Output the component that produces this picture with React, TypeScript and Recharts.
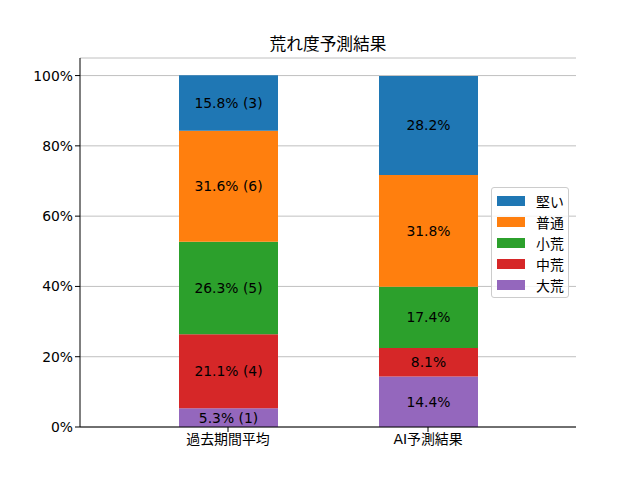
import React from 'react';
import {
  BarChart,
  Bar,
  XAxis,
  YAxis,
  CartesianGrid,
  LabelList,
  Legend,
} from 'recharts';

const categories = ['過去期間平均', 'AI予測結果'];
const seriesNames = ['大荒', '中荒', '小荒', '普通', '堅い'];
const seriesColors = ['#9467bd', '#d62728', '#2ca02c', '#ff7f0e', '#1f77b4'];
const pastShares = [5.3, 21.1, 26.3, 31.6, 15.8];
const pastCounts = [1, 4, 5, 6, 3];
const aiShares = [14.4, 8.1, 17.4, 31.8, 28.2];
const yTicks = [0, 20, 40, 60, 80, 100];

const FONT = '"DejaVu Sans", "Noto Sans CJK JP", sans-serif';

const rows = categories.map((name, ci) => {
  const row: Record<string, string | number> = { name };
  seriesNames.forEach((s, si) => {
    if (ci === 0) {
      row[s] = pastShares[si];
      row[`${s}_label`] = `${pastShares[si].toFixed(1)}% (${pastCounts[si]})`;
    } else {
      row[s] = aiShares[si];
      row[`${s}_label`] = `${aiShares[si].toFixed(1)}%`;
    }
  });
  return row;
});

const LegendBox = () => (
  <div
    style={{
      boxSizing: 'border-box',
      width: 78,
      border: '1px solid #cccccc',
      borderRadius: 3,
      background: 'rgba(255,255,255,0.8)',
      padding: '2px 4px 2px 5px',
      fontFamily: FONT,
      fontSize: 13.9,
      whiteSpace: 'nowrap',
    }}
  >
    {seriesNames
      .map((s, i) => ({ s, c: seriesColors[i] }))
      .reverse()
      .map(({ s, c }) => (
        <div key={s} style={{ display: 'flex', alignItems: 'center', height: 21 }}>
          <span style={{ flex: 'none', width: 28, height: 10, background: c, marginRight: 11, display: 'inline-block' }} />
          <span style={{ color: '#000' }}>{s}</span>
        </div>
      ))}
  </div>
);

export default function App() {
  return (
    <div style={{ position: 'absolute', left: 0, top: 0, width: 640, height: 480, background: '#fff', fontFamily: FONT }}>
      <div
        style={{
          position: 'absolute',
          top: 34,
          left: 80,
          width: 496,
          textAlign: 'center',
          fontSize: 16.7,
          lineHeight: '20px',
          color: '#000',
        }}
      >
        荒れ度予測結果
      </div>
      <BarChart
        width={640}
        height={480}
        data={rows}
        margin={{ top: 58, right: 64, bottom: 23, left: 0 }}
        style={{ fontFamily: FONT }}
      >
        <CartesianGrid xAxisId="x" yAxisId="y" vertical={false} stroke="#b0b0b0" strokeWidth={0.8} />
        <XAxis
          xAxisId="x"
          dataKey="name"
          height={30}
          padding={{ left: 48, right: 48 }}
          tickSize={5}
          tickLine={{ stroke: '#000' }}
          axisLine={{ stroke: '#000' }}
          tick={{ fill: '#000', fontSize: 13.9 }}
        />
        <XAxis xAxisId="top" dataKey="name" orientation="top" height={0} tick={false} tickLine={false} axisLine={{ stroke: '#000' }} />
        <YAxis
          yAxisId="y"
          width={80}
          domain={[0, 105]}
          ticks={yTicks}
          allowDataOverflow
          tickFormatter={(v) => `${v}%`}
          tickSize={5}
          tickLine={{ stroke: '#000' }}
          axisLine={{ stroke: '#000' }}
          tick={{ fill: '#000', fontSize: 13.9 }}
        />
        <YAxis yAxisId="right" orientation="right" width={0} domain={[0, 105]} tick={false} tickLine={false} axisLine={{ stroke: '#000' }} />
        {seriesNames.map((s, i) => (
          <Bar
            key={s}
            xAxisId="x"
            yAxisId="y"
            dataKey={s}
            stackId="a"
            fill={seriesColors[i]}
            barSize={99}
            isAnimationActive={false}
          >
            <LabelList dataKey={`${s}_label`} position="center" fill="#000" fontSize={13.9} />
          </Bar>
        ))}
        <Legend
          layout="vertical"
          align="center"
          verticalAlign="middle"
          content={() => <LegendBox />}
          wrapperStyle={{ left: 491, top: 187, width: 78 }}
        />
      </BarChart>
    </div>
  );
}
